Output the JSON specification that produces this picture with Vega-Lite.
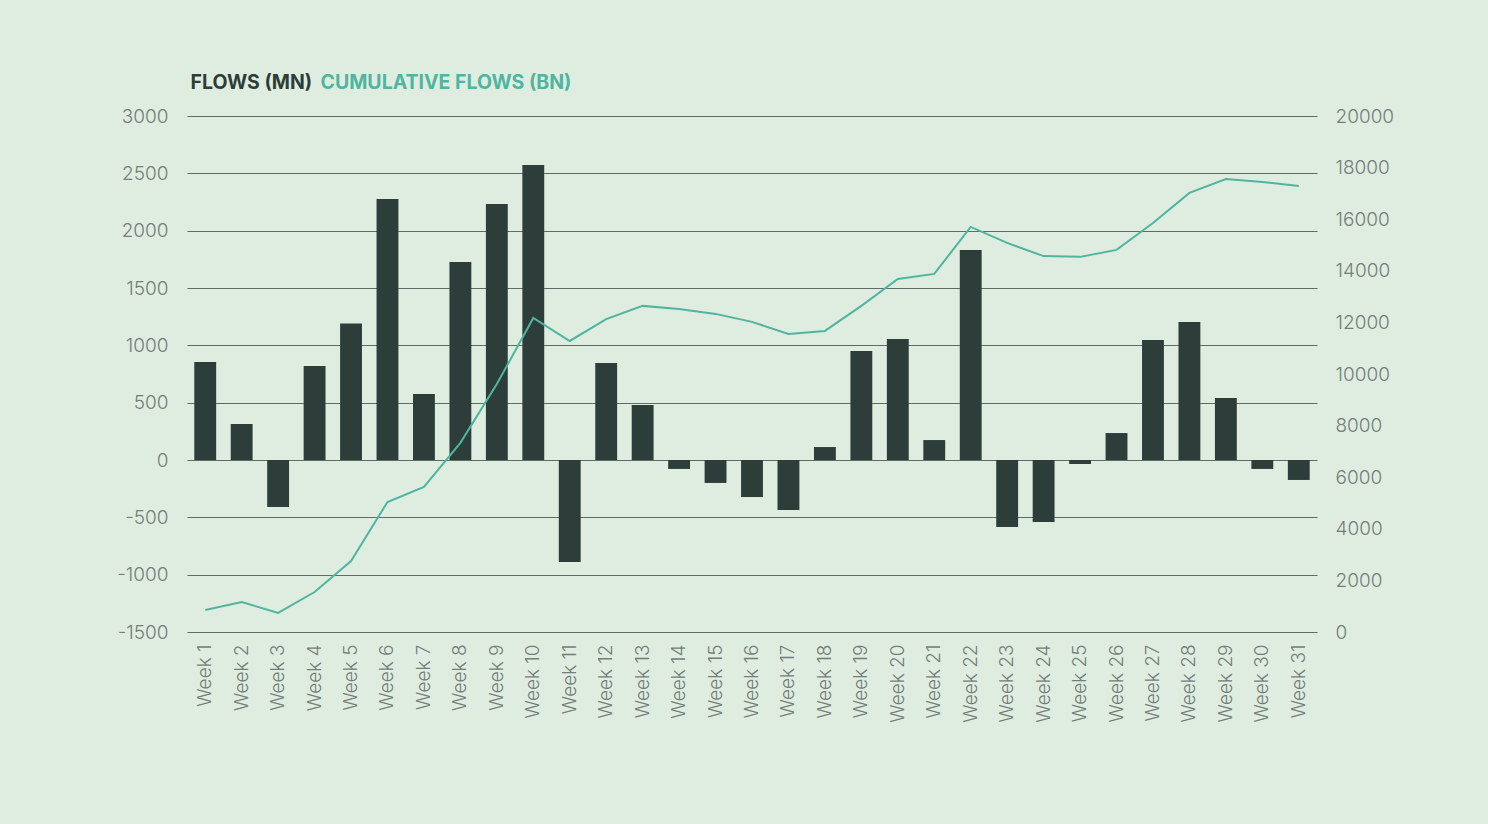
{
  "$schema": "https://vega.github.io/schema/vega-lite/v6.json",
  "description": "Weekly flows (MN) and cumulative flows (BN)",
  "width": 1130,
  "height": 516,
  "autosize": "none",
  "padding": {"left": 187, "top": 116, "right": 171, "bottom": 192},
  "background": "#dfede0",
  "config": {
    "view": {"stroke": null},
    "font": "Inter",
    "axis": {
      "labelFont": "Inter",
      "labelFontSize": 19,
      "labelFontWeight": 300,
      "labelColor": "#737d79",
      "domain": false,
      "ticks": false,
      "title": null
    }
  },
  "data": {
    "values": [
      {"week": "Week 1", "flows": 855, "cumulative": 850},
      {"week": "Week 2", "flows": 314, "cumulative": 1160},
      {"week": "Week 3", "flows": -410, "cumulative": 740},
      {"week": "Week 4", "flows": 820, "cumulative": 1550},
      {"week": "Week 5", "flows": 1190, "cumulative": 2750},
      {"week": "Week 6", "flows": 2276, "cumulative": 5040},
      {"week": "Week 7", "flows": 576, "cumulative": 5620},
      {"week": "Week 8", "flows": 1727, "cumulative": 7330},
      {"week": "Week 9", "flows": 2232, "cumulative": 9610},
      {"week": "Week 10", "flows": 2573, "cumulative": 12170},
      {"week": "Week 11", "flows": -890, "cumulative": 11280},
      {"week": "Week 12", "flows": 846, "cumulative": 12130},
      {"week": "Week 13", "flows": 480, "cumulative": 12640},
      {"week": "Week 14", "flows": -78, "cumulative": 12520},
      {"week": "Week 15", "flows": -200, "cumulative": 12330},
      {"week": "Week 16", "flows": -323, "cumulative": 12020},
      {"week": "Week 17", "flows": -436, "cumulative": 11550},
      {"week": "Week 18", "flows": 113, "cumulative": 11670},
      {"week": "Week 19", "flows": 950, "cumulative": 12640},
      {"week": "Week 20", "flows": 1055, "cumulative": 13680},
      {"week": "Week 21", "flows": 174, "cumulative": 13880},
      {"week": "Week 22", "flows": 1831, "cumulative": 15700},
      {"week": "Week 23", "flows": -584, "cumulative": 15080},
      {"week": "Week 24", "flows": -541, "cumulative": 14570},
      {"week": "Week 25", "flows": -35, "cumulative": 14540},
      {"week": "Week 26", "flows": 235, "cumulative": 14810},
      {"week": "Week 27", "flows": 1046, "cumulative": 15850},
      {"week": "Week 28", "flows": 1203, "cumulative": 17020},
      {"week": "Week 29", "flows": 540, "cumulative": 17560},
      {"week": "Week 30", "flows": -78, "cumulative": 17440},
      {"week": "Week 31", "flows": -174, "cumulative": 17290}
    ]
  },
  "encoding": {
    "x": {
      "field": "week",
      "type": "nominal",
      "sort": null,
      "scale": {"paddingInner": 0.4, "paddingOuter": 0.2},
      "axis": {"labelAngle": -90, "labelPadding": 12, "grid": false}
    }
  },
  "layer": [
    {
      "mark": {"type": "bar", "cornerRadius": 0},
      "encoding": {
        "y": {
          "field": "flows",
          "type": "quantitative",
          "scale": {"domain": [-1500, 3000], "nice": false},
          "axis": {
            "orient": "left",
            "values": [-1500, -1000, -500, 0, 500, 1000, 1500, 2000, 2500, 3000],
            "labelExpr": "'' + datum.value",
            "labelPadding": 19,
            "grid": true,
            "gridColor": "#5d6d66",
            "gridWidth": 1,
            "gridOpacity": 1
          }
        },
        "color": {
          "datum": "FLOWS (MN)",
          "type": "nominal",
          "scale": {
            "domain": ["FLOWS (MN)", "CUMULATIVE FLOWS (BN)"],
            "range": ["#2d3d3a", "#4fb5a1"]
          },
          "legend": {
            "orient": "none",
            "legendX": -4,
            "legendY": -43,
            "direction": "horizontal",
            "title": null,
            "symbolSize": 0,
            "symbolOpacity": 0,
            "symbolStrokeWidth": 0,
            "labelOffset": -12,
            "columnPadding": 0,
            "labelFont": "Inter",
            "labelFontSize": 19.5,
            "labelFontWeight": 700,
            "labelLimit": 400,
            "labelColor": {"expr": "datum.value == 'FLOWS (MN)' ? '#2d3d3a' : '#4fb5a1'"}
          }
        }
      }
    },
    {
      "mark": {"type": "line", "strokeWidth": 2},
      "encoding": {
        "y": {
          "field": "cumulative",
          "type": "quantitative",
          "scale": {"domain": [0, 20000], "nice": false},
          "axis": {
            "orient": "right",
            "values": [0, 2000, 4000, 6000, 8000, 10000, 12000, 14000, 16000, 18000, 20000],
            "labelExpr": "'' + datum.value",
            "labelPadding": 18,
            "grid": false
          }
        },
        "color": {"datum": "CUMULATIVE FLOWS (BN)", "type": "nominal"}
      }
    }
  ],
  "resolve": {"scale": {"y": "independent"}}
}
